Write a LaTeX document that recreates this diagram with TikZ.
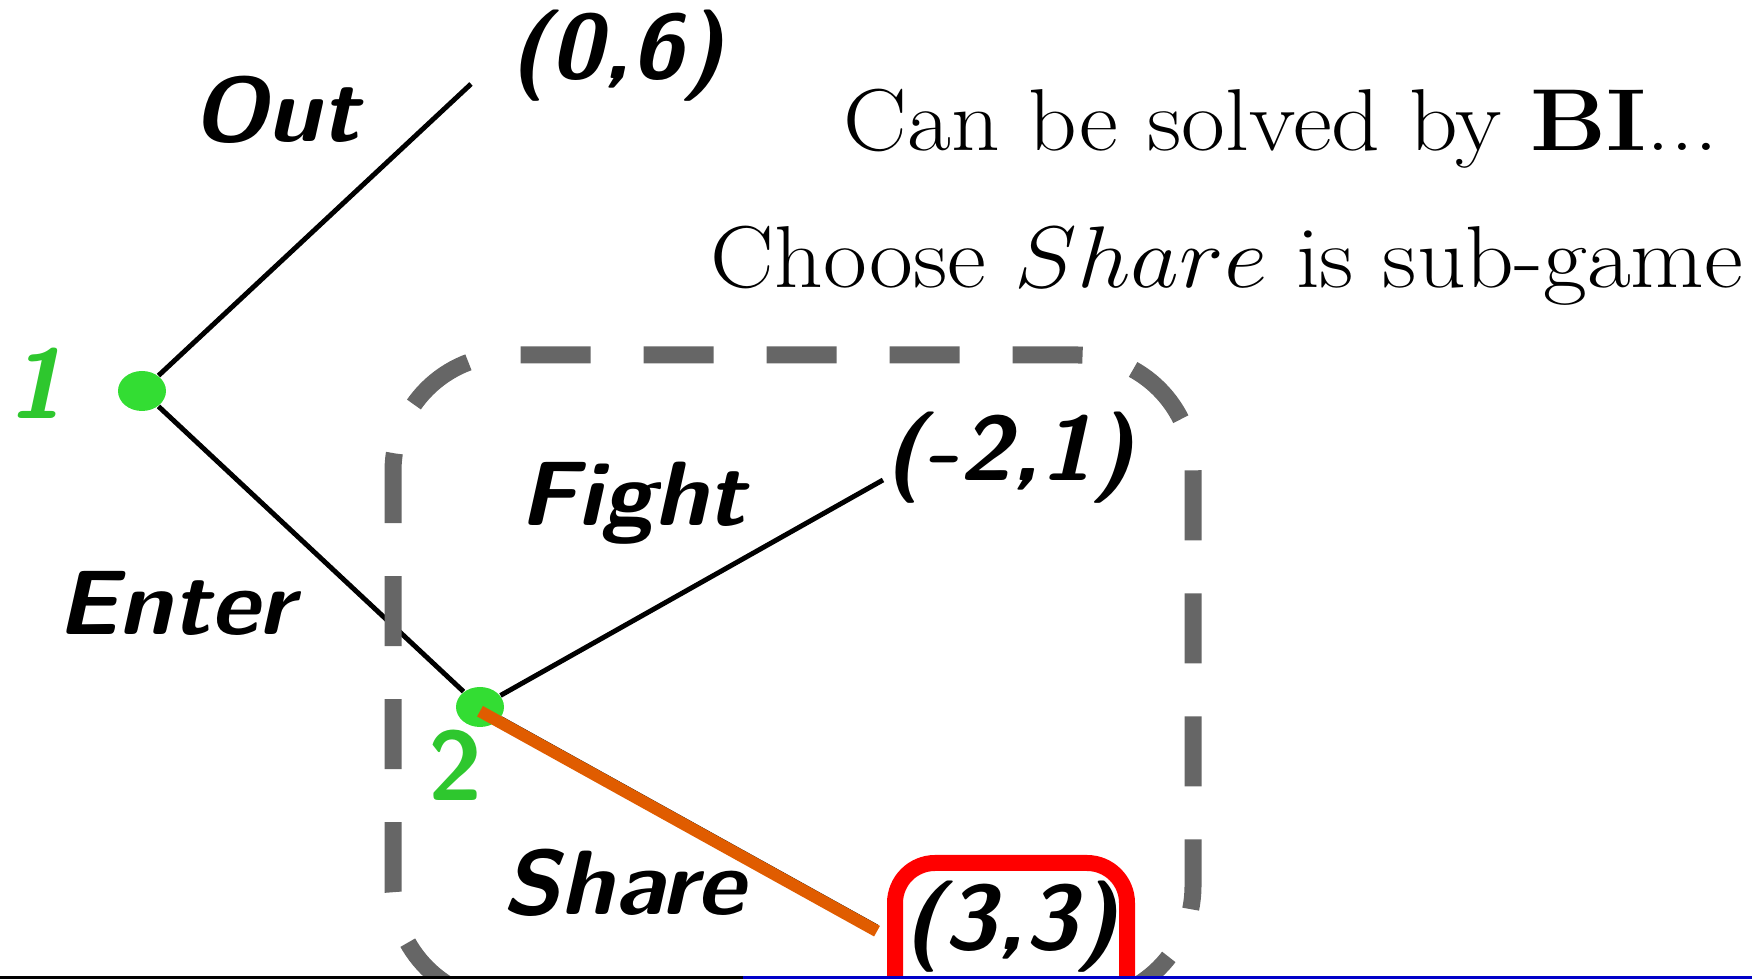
\documentclass[tikz,border=0pt]{standalone}
\usepackage{tikz}
\usetikzlibrary{shapes.geometric}
\definecolor{playergreen}{RGB}{51,221,51}
\definecolor{sharecol}{RGB}{224,92,0}
\definecolor{footblue}{RGB}{0,0,200}
\tikzset{player/.style={ellipse,fill=playergreen,minimum width=0.48cm,minimum height=0.40cm,inner sep=0pt}}
\tikzset{plabel/.style={text=playergreen!90!black,font=\fontsize{28}{32}\selectfont\sffamily\bfseries}}
\tikzset{move/.style={xscale=1.04,font=\fontsize{26}{30}\selectfont\sffamily\bfseries\slshape}}
\tikzset{remark/.style={anchor=base west,inner sep=0pt,xscale=1.085,font=\fontsize{25}{30}\selectfont}}
\tikzset{edge/.style={draw=black,line width=1.4pt}}
\tikzset{subgame/.style={draw=black!60,line width=0.17cm,rounded corners=1.16cm,dash pattern=on 0.70cm off 0.53cm,dash phase=1.41cm}}

\begin{document}
\begin{tikzpicture}
\useasboundingbox (0,0) rectangle (17.52,9.79);
% decision nodes 1 and 2
\node[player] at (1.42,5.88) (n1) {};
\node[player] at (4.80,2.72) (n2) {};
\node[plabel,font=\fontsize{28}{32}\selectfont\sffamily\bfseries\slshape] at (0.36,5.96) (l1) {1};
\node[plabel] at (4.56,2.14) (l2) {2};

% free ends of the branches
\coordinate (outend) at (4.71,8.95);
\coordinate (fightend) at (8.83,4.99);
\coordinate (shareend) at (8.77,0.52);

% branches
\draw[edge] (n1) -- (outend);
\draw[edge] (n1) -- (n2);
\draw[edge] (n2) -- (fightend);
\draw[edge] (n2) -- (shareend);

% chosen branch
\draw[draw=sharecol,line width=0.12cm] ([yshift=-1.2pt]n2.center) -- ([yshift=-1.2pt]shareend);

% move labels
\node[move] at (2.76,8.69) (out) {Out};
\node[move] at (1.76,3.76) (enter) {Enter};
\node[move] at (6.33,4.76) (fight) {Fight};
\node[move] at (6.24,0.96) (share) {Share};

% payoffs
\node[move] at (6.17,9.23) (p1) {(0,6)};
\node[move] at (10.09,5.21) (p2) {(-2,1)};
\node[move] at (10.11,0.52) (p3) {(3,3)};

% highlight of (3,3)
\draw[red,line width=0.16cm,rounded corners=0.4cm] (8.95,-0.5) -- (8.95,1.16) -- (11.27,1.16) -- (11.27,-0.5);

% sub-game frame (starts below the page edge)
\draw[subgame] (8,-0.23) -- (3.93,-0.23) -- (3.93,6.24) -- (11.93,6.24) -- (11.93,-0.23) -- cycle;

% text on the right
\node[remark] at (8.43,8.28) (t1) {Can be solved by \textbf{BI}...};
\node[remark] at (7.10,6.91) (t2) {Choose $Share$ is sub-game};

% footline
\fill[black] (0,0) rectangle (7.43,0.03);
\fill[footblue] (7.43,0) rectangle (17.52,0.03);
\end{tikzpicture}
\end{document}
